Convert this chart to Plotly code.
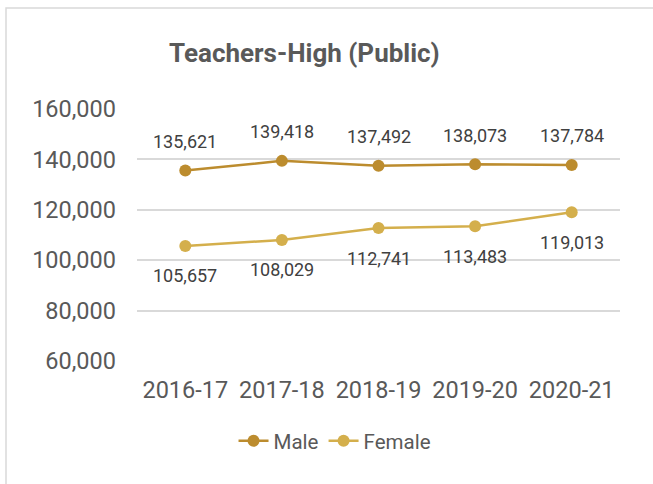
import plotly.graph_objects as go

years = ["2016-17", "2017-18", "2018-19", "2019-20", "2020-21"]
male = [135621, 139418, 137492, 138073, 137784]
female = [105657, 108029, 112741, 113483, 119013]
y_ticks = [60000, 80000, 100000, 120000, 140000, 160000]
grid_ticks = [80000, 100000, 120000, 140000, 160000]

male_color = "#BC8C2E"
female_color = "#D4AF4C"
font = "Roboto, Noto Sans, sans-serif"

fig = go.Figure()
fig.add_trace(go.Scatter(x=years, y=male, name="Male", mode="lines+markers",
                         line=dict(color=male_color, width=2.5),
                         marker=dict(size=12, color=male_color)))
fig.add_trace(go.Scatter(x=years, y=female, name="Female", mode="lines+markers",
                         line=dict(color=female_color, width=2.5),
                         marker=dict(size=12, color=female_color)))
# invisible trace to activate grid axis
fig.add_trace(go.Scatter(x=years, y=male, yaxis="y2", mode="none",
                         showlegend=False, hoverinfo="skip"))

for x, v in zip(years, male):
    fig.add_annotation(x=x, y=v, text=f"{v:,}", showarrow=False, yshift=29,
                       font=dict(family=font, size=18, color="#404040"))
for x, v in zip(years, female):
    fig.add_annotation(x=x, y=v, text=f"{v:,}", showarrow=False, yshift=-30,
                       font=dict(family=font, size=18, color="#404040"))

fig.add_annotation(xref="paper", yref="paper", x=0.346, y=1.222,
                   xanchor="center", yanchor="middle",
                   text="<b>Teachers-High (Public)</b>", showarrow=False,
                   font=dict(family=font, size=26, color="#595959"))

fig.add_shape(type="rect", xref="paper", yref="paper",
              x0=-0.2712, x1=1.2, y0=-0.6, y1=1.401,
              line=dict(color="#D9D9D9", width=1.5), layer="below")

fig.update_layout(
    width=653, height=484,
    margin=dict(l=137, r=33, t=109, b=123),
    paper_bgcolor="white", plot_bgcolor="white",
    font=dict(family=font, color="#595959"),
    showlegend=True,
    legend=dict(orientation="h", x=0.41, xanchor="center", y=-0.317, yanchor="middle",
                font=dict(family=font, size=20.5, color="#595959")),
    xaxis=dict(range=[-0.5, 4.5], showgrid=False, showline=False, ticks="", zeroline=False,
               ticklabelstandoff=12,
               tickfont=dict(family=font, size=23.5, color="#595959")),
    yaxis=dict(range=[60000, 160000], tickvals=y_ticks, tickformat=",",
               showgrid=False, zeroline=False, showline=False, ticks="",
               ticklabelstandoff=20,
               tickfont=dict(family=font, size=23.5, color="#595959")),
    yaxis2=dict(range=[60000, 160000], overlaying="y", tickvals=grid_ticks,
                showgrid=True, gridcolor="#D9D9D9", gridwidth=1.5,
                showticklabels=False, zeroline=False, showline=False),
)

fig.write_html("out.html", config={"displayModeBar": False},
               post_script="document.body.style.margin='0';")
